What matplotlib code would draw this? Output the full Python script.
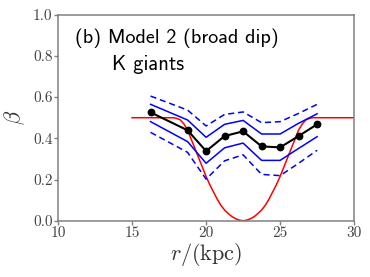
import matplotlib
matplotlib.use("Agg")
import matplotlib.pyplot as plt

plt.rcParams['mathtext.fontset'] = 'cm'
plt.rcParams['font.family'] = 'cmr10'
plt.rcParams['axes.unicode_minus'] = False
plt.rcParams['axes.formatter.use_mathtext'] = True

# measured profile (black points) and bands
r_bins = [16.25, 18.75, 20.0, 21.25, 22.5, 23.75, 25.0, 26.25, 27.5]
beta_med = [0.526, 0.439, 0.338, 0.411, 0.434, 0.361, 0.356, 0.411, 0.468]
beta_hi1 = [0.565, 0.489, 0.405, 0.468, 0.487, 0.421, 0.421, 0.473, 0.519]
beta_lo1 = [0.481, 0.384, 0.279, 0.354, 0.377, 0.293, 0.293, 0.351, 0.408]
beta_hi2 = [0.605, 0.537, 0.460, 0.516, 0.528, 0.476, 0.481, 0.521, 0.565]
beta_lo2 = [0.429, 0.332, 0.202, 0.291, 0.320, 0.225, 0.219, 0.279, 0.342]

# true model (red curve)
r_true = [15.0, 17.8, 18.0, 18.25, 18.5, 18.75, 19.0, 19.25, 19.5, 19.75, 20.0,
          20.25, 20.5, 20.75, 21.0, 21.25, 21.5, 21.75, 22.0, 22.25, 22.5,
          22.75, 23.0, 23.25, 23.5, 23.75, 24.0, 24.25, 24.5, 24.75, 25.0,
          25.25, 25.5, 25.75, 26.0, 26.25, 26.5, 26.75, 27.0, 27.2, 30.0]
beta_true = [0.5, 0.5, 0.497, 0.49, 0.47, 0.44, 0.395, 0.35, 0.305, 0.26, 0.215,
             0.175, 0.14, 0.105, 0.075, 0.052, 0.035, 0.02, 0.01, 0.003, 0.0,
             0.003, 0.01, 0.02, 0.035, 0.052, 0.075, 0.105, 0.14, 0.175, 0.215,
             0.26, 0.305, 0.35, 0.395, 0.44, 0.47, 0.49, 0.497, 0.5, 0.5]

xticks = [10, 15, 20, 25, 30]
yticks = [0.0, 0.2, 0.4, 0.6, 0.8, 1.0]

fig = plt.figure(figsize=(3.7, 2.77), dpi=100)
ax = fig.add_axes([0.157, 0.203, 0.8, 0.744])

ax.plot(r_true, beta_true, color='red', lw=1.1)
ax.plot(r_bins, beta_hi2, color='blue', lw=1.1, ls=(0, (4, 2.5)))
ax.plot(r_bins, beta_lo2, color='blue', lw=1.1, ls=(0, (4, 2.5)))
ax.plot(r_bins, beta_hi1, color='blue', lw=1.1)
ax.plot(r_bins, beta_lo1, color='blue', lw=1.1)
ax.plot(r_bins, beta_med, color='black', lw=1.5, marker='o', ms=4.6)

ax.set_xlim(10, 30)
ax.set_ylim(0, 1)
ax.set_xticks(xticks)
ax.set_yticks(yticks)
ax.xaxis.set_major_formatter(plt.FormatStrFormatter('%d'))
ax.yaxis.set_major_formatter(plt.FormatStrFormatter('%.1f'))

for s in ax.spines.values():
    s.set_color('#808080')
    s.set_linewidth(1.1)
ax.tick_params(colors='#808080', labelcolor='#444444', labelsize=11, length=3, width=1, pad=1)

ax.set_xlabel(r'$r/(\mathrm{kpc})$', fontsize=16, color='#333333', labelpad=1)
ax.set_ylabel(r'$\beta$', fontsize=16, color='#333333', labelpad=4)

ax.text(11.15, 0.861, '(b) Model 2 (broad dip)', family='cmss10', fontsize=14.5, va='baseline', color='black')
ax.text(13.65, 0.732, 'K giants', family='cmss10', fontsize=14.8, va='baseline', color='black')

fig.savefig('out.png', dpi=100)
